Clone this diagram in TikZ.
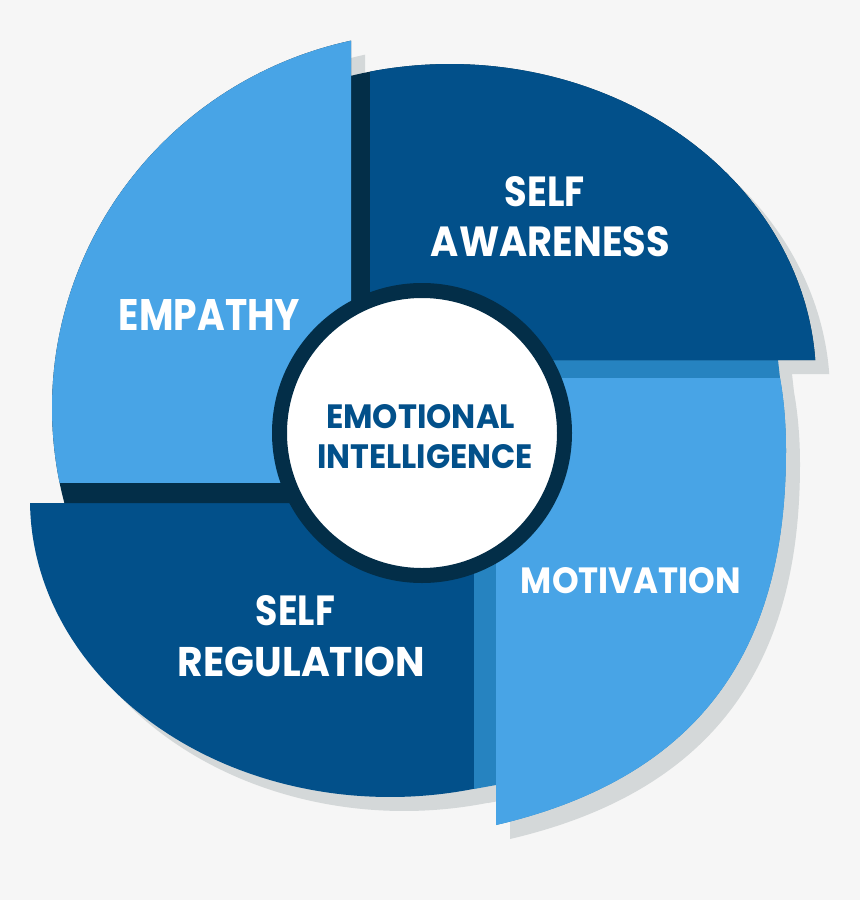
\documentclass[tikz,border=0pt]{standalone}
\usepackage{fontspec}
\setmainfont{Poppins}
\usepackage{graphicx}
\definecolor{bgc}{HTML}{F6F6F6}
\definecolor{shadowc}{HTML}{D4D8D9}
\definecolor{darkblue}{HTML}{02508A}
\definecolor{lightblue}{HTML}{48A4E6}
\definecolor{midblue}{HTML}{2683C0}
\definecolor{deepblue}{HTML}{032E48}
\newcommand\pieceEmp[1]{\fill[#1] (351,40.6) -- (351,503) -- (64.3,503) -- plot[domain=102.3:194.6,samples=90,smooth] ({432+380*cos(296.9-\x)},{408-376*sin(296.9-\x)}) -- cycle;}
\newcommand\pieceSA[1]{\fill[#1] (351,360) -- (815.3,360) -- plot[domain=3.63:105.7,samples=90,smooth] ({450+366*cos(\x)},{380-316*sin(\x)}) -- cycle;}
\newcommand\pieceMot[1]{\fill[#1] (496,378) -- (780,378) .. controls (784,400) and (786,425) .. (786,450) .. controls (786,620) and (726,771.2) .. (496,825) -- cycle;}
\newcommand\pieceMotAll[1]{\fill[#1] (474,360) -- (778,360) -- (780,378) .. controls (784,400) and (786,425) .. (786,450) .. controls (786,620) and (726,771.2) .. (496,825) -- (496,785) -- (474,789) -- cycle;}
\newcommand\pieceSR[1]{\fill[#1] (30,503) -- (474,503) -- (474,789) -- plot[domain=76.5:179.42,samples=90,smooth] ({390+360*cos(\x)},{500+297*sin(\x)}) -- cycle;}
\tikzset{
  lbl/.style={inner sep=0pt, text=white, font=\bfseries},
  ctr/.style={inner sep=0pt, text=darkblue, font=\bfseries},
  shd/.style={shadowc, shift={(14,14)}}
}
\begin{document}
\begin{tikzpicture}[x=1pt,y=-1pt]
\useasboundingbox (0,0) rectangle (860,900);
\fill[bgc] (0,0) rectangle (860,900);
% shadows
\pieceEmp{shd}
\pieceSA{shd}
\pieceMotAll{shd}
\pieceSR{shd}
% self regulation
\pieceSR{darkblue}
% motivation
\pieceMotAll{midblue}
\pieceMot{lightblue}
% self awareness
\pieceSA{deepblue}
\begin{scope}
  \clip (370,0) rectangle (860,900);
  \pieceSA{darkblue}
\end{scope}
% empathy
\pieceEmp{deepblue}
\begin{scope}
  \clip (0,0) rectangle (400,482);
  \pieceEmp{lightblue}
\end{scope}
% centre circle
\node[circle, minimum size=285pt, inner sep=0pt, fill=white, draw=deepblue, line width=15pt] (core) at (422,433) {};
% labels
\node[lbl] (saA) at (545,192) {\resizebox{80pt}{30pt}{SELF}};
\node[lbl] (saB) at (550.5,242) {\resizebox{239pt}{30pt}{AWARENESS}};
\node[lbl] (emp) at (209.5,314.5) {\resizebox{181pt}{31pt}{EMPATHY}};
\node[lbl] (mot) at (631,581) {\resizebox{220pt}{26pt}{MOTIVATION}};
\node[lbl] (srA) at (295.5,611) {\resizebox{79pt}{30pt}{SELF}};
\node[lbl] (srB) at (301.5,661.5) {\resizebox{247pt}{29.5pt}{REGULATION}};
\node[ctr] (eiA) at (420.5,417) {\resizebox{189pt}{24pt}{EMOTIONAL}};
\node[ctr] (eiB) at (425,457) {\resizebox{216pt}{24pt}{INTELLIGENCE}};
\end{tikzpicture}
\end{document}
